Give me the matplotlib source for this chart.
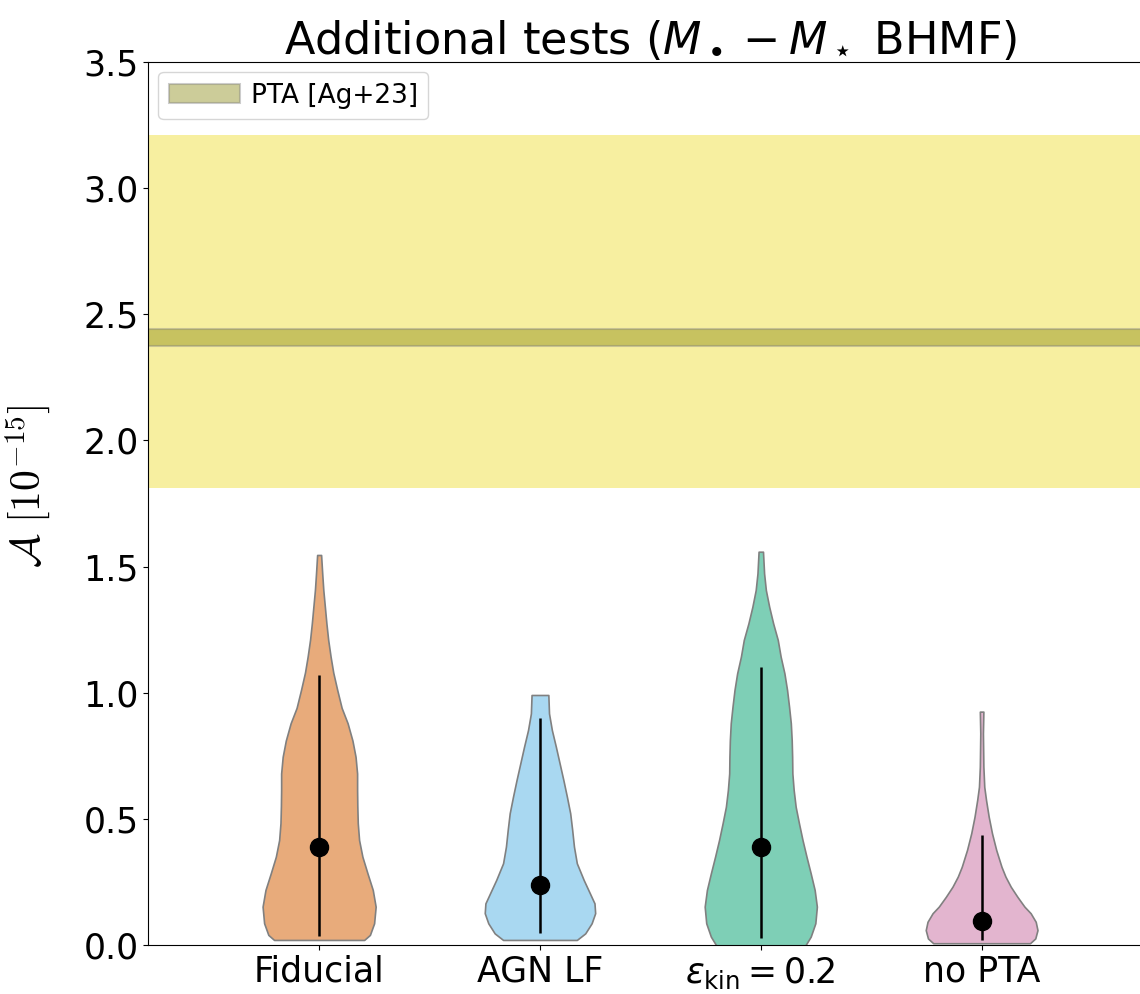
import numpy as np
import matplotlib
matplotlib.use('Agg')
import matplotlib.pyplot as plt

# Categories and summary statistics of the amplitude posteriors
labels = ['Fiducial', 'AGN LF', r'$\varepsilon_{\rm kin}=0.2$', 'no PTA']
colors = ['#e8ab7b', '#a9d8f1', '#7ecfb6', '#e3b5cf']
medians = [0.39, 0.237, 0.39, 0.095]
lo = [0.035, 0.047, 0.028, 0.02]
hi = [1.07, 0.90, 1.10, 0.436]

# Violin outlines: amplitude levels and half-widths of each body
fid_y = [0.02, 0.04, 0.086, 0.152, 0.218, 0.284, 0.35, 0.416, 0.483, 0.55, 0.614, 0.68,
         0.746, 0.81, 0.879, 0.94, 1.011, 1.08, 1.143, 1.21, 1.275, 1.341, 1.407, 1.473, 1.546]
fid_w = [0.204, 0.230, 0.249, 0.256, 0.243, 0.219, 0.196, 0.181, 0.175, 0.173, 0.172, 0.172,
         0.165, 0.151, 0.129, 0.102, 0.082, 0.064, 0.052, 0.041, 0.033, 0.026, 0.019, 0.014, 0.009]
agn_y = [0.02, 0.046, 0.086, 0.126, 0.165, 0.205, 0.258, 0.324, 0.39, 0.456, 0.522, 0.588,
         0.654, 0.72, 0.786, 0.852, 0.918, 0.991]
agn_w = [0.167, 0.205, 0.234, 0.250, 0.247, 0.226, 0.198, 0.167, 0.154, 0.146, 0.137, 0.122,
         0.106, 0.089, 0.072, 0.054, 0.041, 0.038]
kin_y = [-0.01, 0.033, 0.086, 0.152, 0.218, 0.284, 0.35, 0.416, 0.482, 0.548, 0.614, 0.68,
         0.746, 0.812, 0.879, 0.945, 1.011, 1.077, 1.143, 1.209, 1.275, 1.341, 1.407, 1.473, 1.559]
kin_w = [0.196, 0.226, 0.247, 0.254, 0.244, 0.226, 0.207, 0.189, 0.173, 0.158, 0.149, 0.143,
         0.142, 0.140, 0.136, 0.128, 0.119, 0.107, 0.090, 0.077, 0.056, 0.038, 0.023, 0.015, 0.010]
nop_y = [0.007, 0.026, 0.059, 0.092, 0.126, 0.152, 0.191, 0.231, 0.271, 0.31, 0.377, 0.443,
         0.509, 0.575, 0.627, 0.707, 0.839, 0.925]
nop_w = [0.219, 0.243, 0.253, 0.245, 0.222, 0.194, 0.162, 0.132, 0.108, 0.090, 0.066, 0.047,
         0.032, 0.020, 0.012, 0.008, 0.006, 0.008]
profiles = [(fid_y, fid_w), (agn_y, agn_w), (kin_y, kin_w), (nop_y, nop_w)]

# PTA measurement (Agazie+23)
pta_range = (1.81, 3.21)
pta_band = (2.375, 2.44)

fig = plt.figure(figsize=(11.4, 9.94), dpi=100)
ax = fig.add_axes([0.13, 0.0493, 0.881, 0.8883])

ax.axhspan(*pta_range, color='#f7efa0', lw=0, zorder=0)
ax.axhspan(*pta_band, facecolor='olive', alpha=0.4, edgecolor='gray', lw=1.5,
           label='PTA [Ag+23]', zorder=1)

positions = np.arange(1, len(labels) + 1)
for pos, (yy, ww), c in zip(positions, profiles, colors):
    yy = np.array(yy)
    ww = np.array(ww)
    ax.fill_betweenx(yy, pos - ww, pos + ww, facecolor=c, edgecolor='gray',
                     lw=1.2, zorder=2)

ax.vlines(positions, lo, hi, color='k', lw=1.8, zorder=3)
ax.plot(positions, medians, 'o', color='k', ms=13, zorder=4)

ax.set_xlim(0.226, 4.774)
ax.set_ylim(0, 3.5)
ax.set_xticks(positions)
ax.set_xticklabels(labels)
ax.set_yticks(np.arange(0, 3.51, 0.5))
ax.tick_params(labelsize=25)
ax.set_ylabel(r'$\mathcal{A}\ [10^{-15}]$', fontsize=30, math_fontfamily='cm')
ax.yaxis.set_label_coords(-0.095, 0.52)
ax.set_title(r'Additional tests ($M_\bullet - M_\star$ BHMF)', fontsize=32)
ax.legend(loc='upper left', fontsize=19, handlelength=2.7, handletextpad=0.4,
          borderaxespad=0.38)

fig.savefig('out.png', dpi=100)
